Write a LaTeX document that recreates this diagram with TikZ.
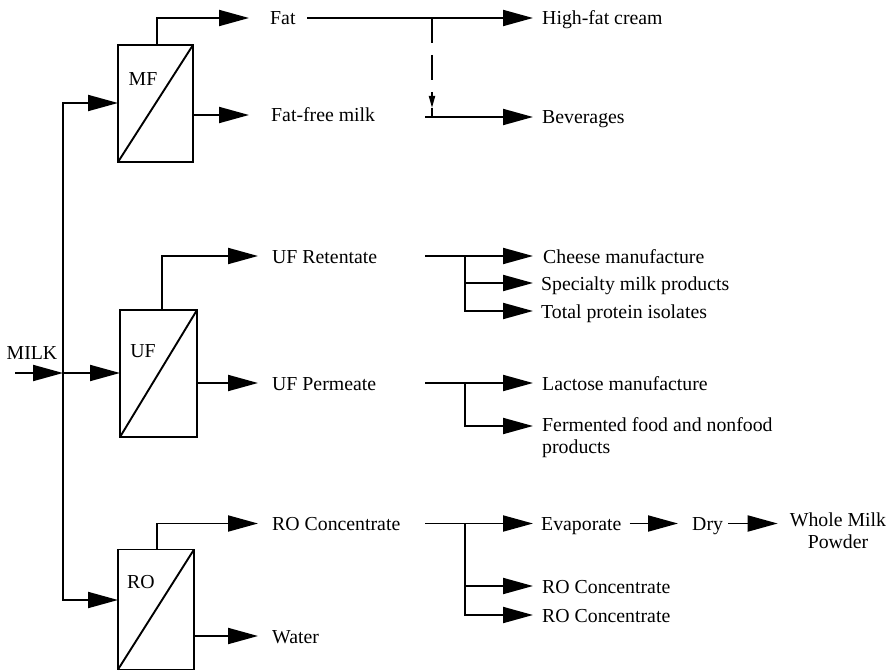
\documentclass[tikz,border=0pt]{standalone}
\usepackage{fontspec}
\setmainfont{Liberation Serif}
\usetikzlibrary{arrows.meta,calc}

\tikzset{
  pipe/.style={line width=1.9pt},
  flow/.style={pipe, -{Triangle[length=30pt,width=16pt]}},
  lab/.style={inner ysep=0pt, text height=14pt, text depth=0pt, anchor=west},
  membrane/.style={draw, line width=1.9pt, inner sep=0pt, outer sep=0pt},
  every node/.style={font=\fontsize{19.8}{22}\selectfont}
}

\begin{document}
\begin{tikzpicture}[x=1pt, y=-1pt]
\useasboundingbox (0,0) rectangle (891,671);

% membrane units
\node[membrane, minimum width=75pt, minimum height=117pt] (MF) at (155.5,103.5) {};
\draw[pipe] (MF.south west) -- (MF.north east);
\node (MFt) at (143,79) {MF};

\node[membrane, minimum width=77pt, minimum height=127pt] (UF) at (158.5,373.5) {};
\draw[pipe] (UF.south west) -- (UF.north east);
\node (UFt) at (143,351) {UF};

\node[membrane, minimum width=76pt, minimum height=120pt] (RO) at (156,609.5) {};
\draw[pipe] (RO.south west) -- (RO.north east);
\node (ROt) at (141,582) {RO};

% milk feed and distribution trunk
\node (milk) at (32,353) {MILK};
\coordinate (milkin) at (15,373);
\coordinate (tMF) at (63,103);
\coordinate (tUF) at (63,373);
\coordinate (tRO) at (63,600);
\draw[flow] (milkin) -- (tUF);
\draw[flow] (tUF) |- (tMF -| MF.west);
\draw[flow] (tUF) -- (tRO) -- (tRO -| RO.west);
\draw[flow] (tUF) -- (tUF -| UF.west);

% microfiltration products
\node[lab, inner xsep=21pt] (fat) at (249,18) {Fat};
\node[lab, inner xsep=22pt] (ffm) at (249,115) {Fat-free milk};
\draw[flow] ([xshift=1.5pt]MF.north) |- (fat.west);
\draw[flow] (MF.east |- ffm.west) -- (ffm.west);

\node[lab, inner xsep=9pt] (hfc) at (533,18) {High-fat cream};
\node[lab, inner xsep=9pt] (bev) at (533,117) {Beverages};
\coordinate (fatS) at (307,18);
\coordinate (fatB) at (432,18);
\coordinate (dashEnd) at (432,108);
\coordinate (bevS) at (425,117);
\draw[flow] (fatS) -- (hfc.west);
\draw[pipe, dash pattern=on 25pt off 12pt, -{Triangle[length=12pt,width=6pt]}] (fatB) -- (dashEnd);
\draw[pipe] (dashEnd) -- (dashEnd |- bev.west);
\draw[flow] (bevS) -- (bev.west);

% ultrafiltration products
\node[lab, inner xsep=14pt] (ufret) at (258,256) {UF Retentate};
\node[lab, inner xsep=14pt] (ufper) at (258,383) {UF Permeate};
\draw[flow] ([xshift=3.5pt]UF.north) |- (ufret.west);
\draw[flow] (UF.east |- ufper.west) -- (ufper.west);

\node[lab, inner xsep=10pt] (cheese) at (533,256) {Cheese manufacture};
\node[lab, inner xsep=8pt] (spec) at (533,283) {Specialty milk products};
\node[lab, inner xsep=8pt] (tpi) at (533,311) {Total protein isolates};
\coordinate (retS) at (425,256);
\coordinate (retB) at (465,256);
\draw[flow] (retS) -- (cheese.west);
\draw[flow] (retB) |- (tpi.west);
\draw[flow] (retB |- spec.west) -- (spec.west);

\node[lab, inner xsep=9pt] (lact) at (533,383) {Lactose manufacture};
\node[align=left, inner sep=0pt, anchor=north west] (ferm) at (542,417) {Fermented food and nonfood\\products};
\coordinate (perS) at (425,383);
\coordinate (perB) at (465,383);
\coordinate (fermIn) at (533,426);
\draw[flow] (perS) -- (lact.west);
\draw[flow] (perB) |- (fermIn);

% reverse osmosis products
\node[lab, inner xsep=14pt] (roc) at (258,523.5) {RO Concentrate};
\node[lab, inner xsep=14pt] (water) at (258,636) {Water};
\draw[flow] ([xshift=1pt]RO.north) |- (roc.west);
\draw[flow] (RO.east |- water.west) -- (water.west);

\node[lab, inner xsep=8pt] (evap) at (533,523.5) {Evaporate};
\node[lab, inner xsep=14pt] (dry) at (678,523.5) {Dry};
\node[align=center, inner sep=0pt, anchor=north] (wmp) at (838,513) {Whole Milk\\Powder};
\node[lab, inner xsep=9pt] (roc2) at (533,586) {RO Concentrate};
\node[lab, inner xsep=9pt] (roc3) at (533,615) {RO Concentrate};
\coordinate (roS) at (425,523.5);
\coordinate (roB) at (465,523.5);
\draw[flow] (roS) -- (evap.west);
\draw[flow] (evap.east) -- (dry.west);
\draw[flow, shorten >=12pt] ([xshift=-9pt]dry.east) -- (dry.east -| wmp.west);
\draw[flow] (roB) |- (roc3.west);
\draw[flow] (roB |- roc2.west) -- (roc2.west);
\end{tikzpicture}
\end{document}
